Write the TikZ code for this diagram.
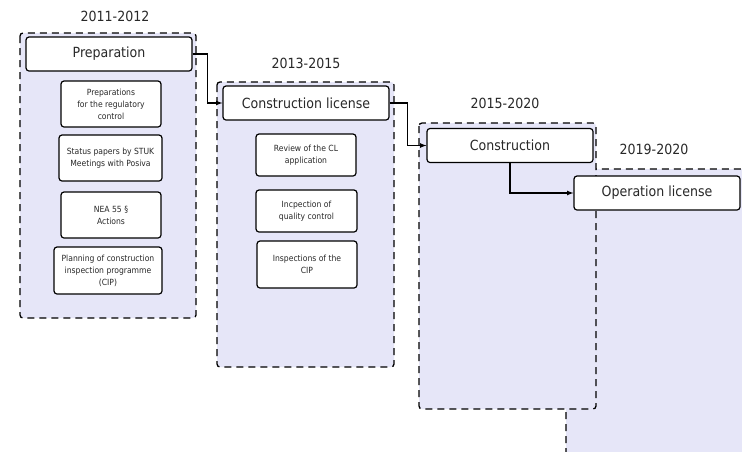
\documentclass[tikz,border=0pt]{standalone}
\usepackage{fontspec}
\setmainfont{DejaVu Sans Condensed}
\usetikzlibrary{positioning}
\definecolor{phasefill}{RGB}{230,230,248}
\definecolor{txtgray}{RGB}{40,40,40}
\tikzset{
    phase/.style={draw=black, line width=1.3pt, dash pattern=on 7pt off 5pt, fill=phasefill, rounded corners=3pt},
    stagebox/.style={draw=black, line width=1.2pt, fill=white, rounded corners=3pt, minimum width=166pt, minimum height=34pt, inner sep=1pt, font=\fontsize{14}{16}\selectfont, text=txtgray},
    taskbox/.style={draw=black, line width=1.2pt, fill=white, rounded corners=3pt, minimum width=100pt, minimum height=46pt, inner sep=1pt, align=center, font=\fontsize{8.5}{12}\selectfont, text=txtgray},
    yearlabel/.style={font=\fontsize{14}{16}\selectfont, text=txtgray},
    link/.style={line width=1.2pt, -latex}
}
\begin{document}
\begin{tikzpicture}[x=1pt,y=-1pt]
    \useasboundingbox[fill=white] (0,0) rectangle (742,451);
    \clip (0,0) rectangle (742,451);
    % phases
    \draw[phase] (566,169) rectangle (760,480); % 2019-2020
    \draw[phase] (419,123) rectangle (596,409); % 2015-2020
    \draw[phase] (217,82) rectangle (394,367);  % 2013-2015
    \draw[phase] (20,33) rectangle (196,318);   % 2011-2012
    \node[yearlabel] (y1) at (115,16) {2011-2012};
    \node[yearlabel] (y2) at (306,63) {2013-2015};
    \node[yearlabel] (y3) at (505,103) {2015-2020};
    \node[yearlabel] (y4) at (654,149) {2019-2020};
    % main stages
    \node[stagebox] (prep) at (109,54) {Preparation};
    \node[stagebox] (conlic) at (306,103) {Construction license};
    \node[stagebox] (constr) at (510,145.5) {Construction};
    \node[stagebox] (oplic) at (657,193) {Operation license};
    % tasks
    \node[taskbox] (t1) at (111,104) {Preparations\\for the regulatory\\control};
    \node[taskbox, minimum width=103pt] (t2) at (110.5,158) {Status papers by STUK\\Meetings with Posiva};
    \node[taskbox] (t3) at (111,215) {NEA 55 \S\\Actions};
    \node[taskbox, minimum width=108pt, minimum height=47pt] (t4) at (108,270.5) {Planning of construction\\inspection programme\\(CIP)};
    \node[taskbox, minimum height=42pt] (t5) at (306,155) {Review of the CL\\application};
    \node[taskbox, minimum width=101pt, minimum height=42pt] (t6) at (306.5,211) {Incpection of\\quality control};
    \node[taskbox, minimum height=47pt] (t7) at (307,264.5) {Inspections of the\\CIP};
    % links
    \draw[link] (prep.east) -- ++(15,0) |- (conlic.west);
    \draw[link] (conlic.east) -- ++(18,0) |- (constr.west);
    \draw[link] (constr.south) |- (oplic.west);
\end{tikzpicture}
\end{document}
